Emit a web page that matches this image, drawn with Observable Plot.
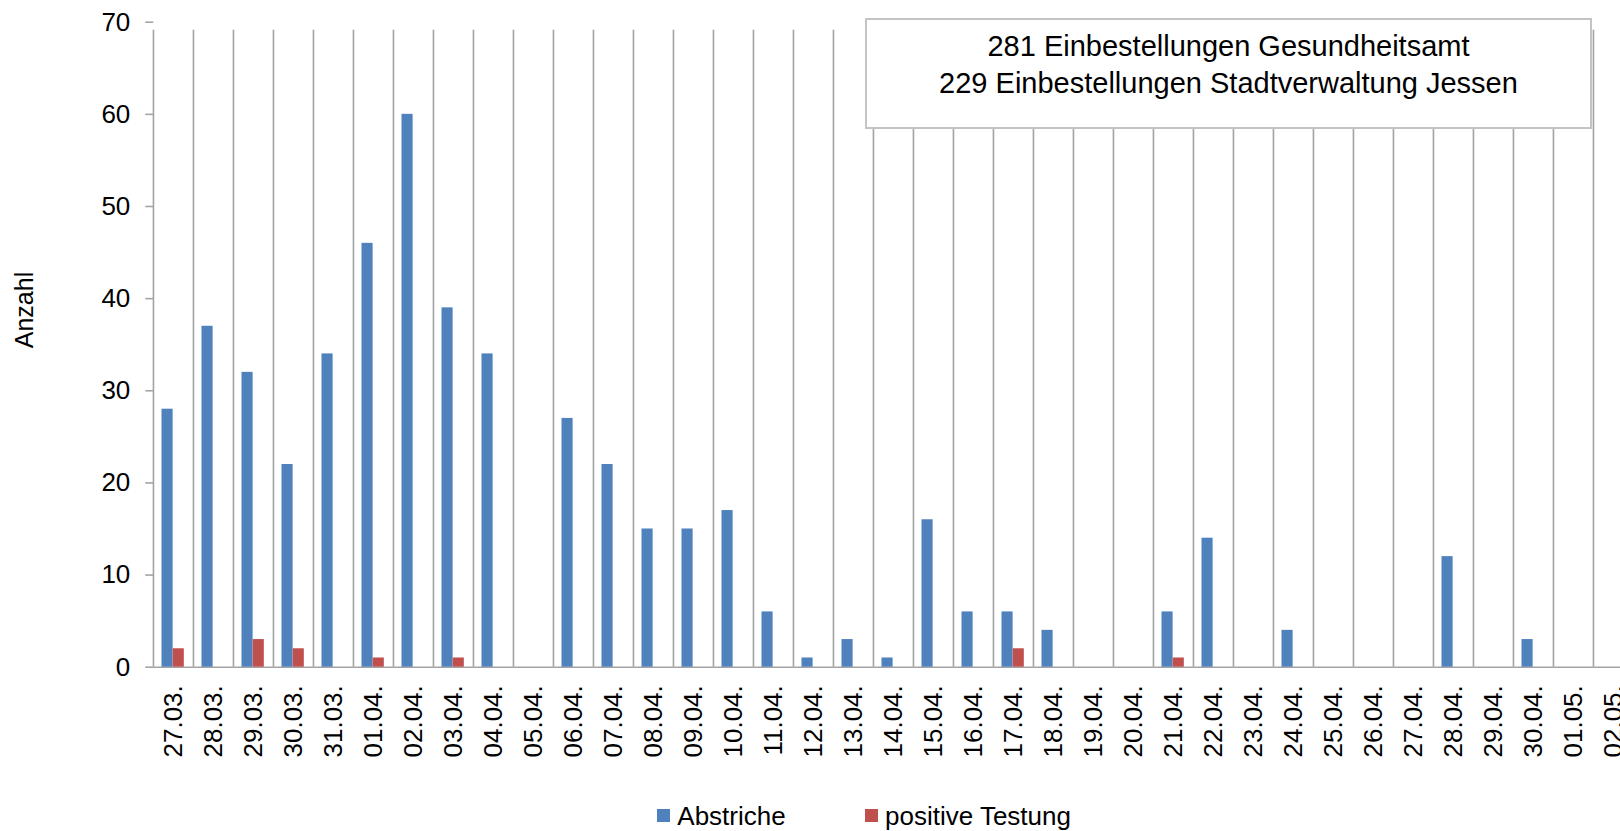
<!DOCTYPE html>
<html>
<head>
<meta charset="utf-8">
<script src="https://cdn.jsdelivr.net/npm/d3@7"></script>
<script src="https://cdn.jsdelivr.net/npm/@observablehq/plot@0.6"></script>
<style>
  html, body { margin: 0; padding: 0; background: #fff; overflow: hidden; width: 1620px; height: 831px; }
  #wrap { position: relative; width: 1620px; height: 831px; font-family: "Liberation Sans", Arial, sans-serif; color: #000; }
  #chart { position: absolute; left: 0; top: 0; }
  #note { position: absolute; left: 865px; top: 18px; width: 723px; height: 99px; border: 2px solid #c4c4c4; background: #fff;
          font-size: 29px; line-height: 37px; text-align: center; padding-top: 8px; box-sizing: content-box; z-index: 2; }
  #ylab { position: absolute; left: 24px; top: 310px; font-size: 25px; transform: translate(-50%, -50%) rotate(-90deg); white-space: nowrap; }
  .leg { position: absolute; top: 800px; font-size: 26px; line-height: 32px; white-space: nowrap; }
  .sw { position: absolute; width: 13px; height: 13px; top: 809px; }
</style>
</head>
<body>
<div id="wrap">
  <div id="chart"></div>
  <div id="note"></div>
  <div id="ylab"></div>
  <div id="legend"></div>
</div>
<script>
// ---- data ----
const dates = ["27.03.","28.03.","29.03.","30.03.","31.03.","01.04.","02.04.","03.04.","04.04.","05.04.",
  "06.04.","07.04.","08.04.","09.04.","10.04.","11.04.","12.04.","13.04.","14.04.","15.04.",
  "16.04.","17.04.","18.04.","19.04.","20.04.","21.04.","22.04.","23.04.","24.04.","25.04.",
  "26.04.","27.04.","28.04.","29.04.","30.04.","01.05.","02.05."];
const abstriche = [28,37,32,22,34,46,60,39,34,0, 27,22,15,15,17,6,1,3,1,16, 6,6,4,0,0,6,14,0,4,0, 0,0,12,0,3,0,0];
const positiv   = [2,0,3,2,0,1,0,1,0,0, 0,0,0,0,0,0,0,0,0,0, 0,2,0,0,0,1,0,0,0,0, 0,0,0,0,0,0,0];
const seriesNames = ["Abstriche", "positive Testung"];
const seriesColors = ["#4F81BD", "#C0504D"];
const yTicks = [0,10,20,30,40,50,60,70];
const yLabel = "Anzahl";
const noteLines = ["281 Einbestellungen Gesundheitsamt", "229 Einbestellungen Stadtverwaltung Jessen"];

// ---- build ----
const rows = dates.map((d, i) => ({date: d, a: abstriche[i], p: positiv[i]}));
const gridColor = "#a3a3a3";
const x0 = 153.3, x1 = 1636.3;
const bw = (x1 - x0) / dates.length;

const chart = Plot.plot({
  width: 1620,
  height: 790,
  marginLeft: 153.3,
  marginRight: 0,
  marginTop: 21.7,
  marginBottom: 790 - 666.7,
  style: {fontFamily: "'Liberation Sans', Arial, sans-serif", fontSize: "26px", background: "transparent", color: "#000"},
  x: {type: "band", domain: dates, range: [x0, x1], padding: 0, align: 0},
  y: {domain: [0, 70], range: [666.7, 21.7]},
  marks: [
    Plot.ruleX(dates, {x: d => d, dx: -bw / 2, y1: 0, y2: 70, stroke: gridColor, strokeWidth: 1.6, insetBottom: -8}),
    Plot.ruleY([0], {stroke: gridColor, strokeWidth: 1.6}),
    Plot.barY(rows, {x: "date", y: "a", fill: seriesColors[0], insetLeft: 8.5, insetRight: bw - 19.7}),
    Plot.barY(rows, {x: "date", y: "p", fill: seriesColors[1], insetLeft: 19.7, insetRight: bw - 30.9}),
    Plot.axisY({ticks: yTicks, tickSize: 8, tickPadding: 15.5, stroke: gridColor, strokeWidth: 1.6, fill: "#000", label: null, tickFormat: d => d}),
    Plot.axisX({tickSize: 0, tickPadding: 18, tickRotate: -90, fill: "#000", label: null})
  ]
});
document.getElementById("chart").appendChild(chart);

document.getElementById("note").innerHTML = noteLines.map(t => `<div>${t}</div>`).join("");
document.getElementById("ylab").textContent = yLabel;

const leg = document.getElementById("legend");
const swX = [657.3, 865];
const txX = [677.3, 885];
seriesNames.forEach((n, i) => {
  const s = document.createElement("div");
  s.className = "sw"; s.style.left = swX[i] + "px"; s.style.background = seriesColors[i];
  leg.appendChild(s);
  const t = document.createElement("div");
  t.className = "leg"; t.style.left = txX[i] + "px"; t.textContent = n;
  leg.appendChild(t);
});
</script>
</body>
</html>
